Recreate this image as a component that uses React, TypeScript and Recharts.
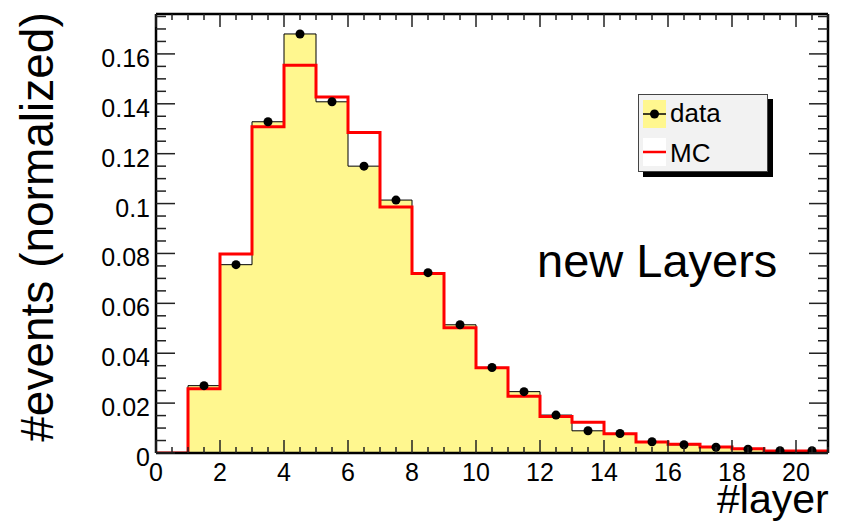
import React from 'react';
import { ComposedChart, Area, Line, Scatter, XAxis, YAxis } from 'recharts';

// bins of #layer, width 1, lower edges
const layerBins = [0, 1, 2, 3, 4, 5, 6, 7, 8, 9, 10, 11, 12, 13, 14, 15, 16, 17, 18, 19, 20];
const dataValues = [
  0, 0.027, 0.0755, 0.1328, 0.168, 0.1408, 0.115, 0.1014, 0.0723, 0.0514, 0.0343,
  0.0246, 0.0152, 0.0089, 0.0078, 0.0045, 0.0033, 0.0023, 0.0015, 0.0009, 0.0009,
];
const mcValues = [
  0, 0.0258, 0.0798, 0.1308, 0.1555, 0.1427, 0.1285, 0.0986, 0.072, 0.0502, 0.0342,
  0.0228, 0.0146, 0.0123, 0.0077, 0.0044, 0.0035, 0.0024, 0.0017, 0.0008, 0.0008,
];
const xMax = 21;
const yMax = 0.176;

const FONT = '"Liberation Sans", Arial, Helvetica, sans-serif';
const YELLOW = '#fff78f';

// step rows: one per lower edge, plus the closing edge
const rows = layerBins.map((b, i) => ({ x: b, data: dataValues[i], mc: mcValues[i] }));
rows.push({ x: xMax, data: dataValues[dataValues.length - 1], mc: mcValues[mcValues.length - 1] });

// markers at bin centres
const points = layerBins
  .map((b, i) => ({ x: b + 0.5, y: dataValues[i] }))
  .filter((p) => p.y > 0);

const xTicks: number[] = [];
for (let i = 0; i <= xMax * 2; i++) xTicks.push(i / 2);
const yTicks: number[] = [];
for (let i = 0; i <= 35; i++) yTicks.push(Math.round(i * 5) / 1000);

const isMajorX = (v: number) => Math.abs(v % 2) < 1e-9;
const isMajorY = (v: number) => Math.abs(Math.round(v * 1000) % 20) === 0;

const BottomTick = ({ x, y, payload }: any) => {
  const v = payload.value;
  const major = isMajorX(v);
  return (
    <g>
      <line x1={x} x2={x} y1={y} y2={y - (major ? 13 : 6)} stroke="#222" strokeWidth={1.5} />
      {major && v <= 20 && (
        <text x={x} y={y + 28} textAnchor="middle" fontSize={25} fontFamily={FONT} fill="#000">
          {v}
        </text>
      )}
    </g>
  );
};

const TopTick = ({ x, y, payload }: any) => {
  const major = isMajorX(payload.value);
  return <line x1={x} x2={x} y1={y} y2={y + (major ? 13 : 6)} stroke="#222" strokeWidth={1.5} />;
};

const LeftTick = ({ x, y, payload }: any) => {
  const v = payload.value;
  const major = isMajorY(v);
  return (
    <g>
      <line x1={x} x2={x + (major ? 19 : 10)} y1={y} y2={y} stroke="#222" strokeWidth={1.5} />
      {major && (
        <text x={x - 6} y={y + 13} textAnchor="end" fontSize={25} fontFamily={FONT} fill="#000">
          {String(Number(v.toFixed(3)))}
        </text>
      )}
    </g>
  );
};

const RightTick = ({ x, y, payload }: any) => {
  const major = isMajorY(payload.value);
  return <line x1={x} x2={x - (major ? 19 : 10)} y1={y} y2={y} stroke="#222" strokeWidth={1.5} />;
};

const Marker = (props: any) => <circle cx={props.cx} cy={props.cy} r={4.5} fill="#000" />;

const DataLegend = () => (
  <div
    style={{
      position: 'absolute',
      left: 638,
      top: 94,
      width: 128,
      height: 76,
      background: '#f2f2f2',
      border: '1px solid #444',
      boxShadow: '5px 5px 0 #000',
    }}
  >
    <svg width={128} height={76} style={{ position: 'absolute', left: 0, top: 0 }}>
      <rect x={4} y={5} width={23} height={28} fill={YELLOW} />
      <line x1={4} x2={27} y1={19} y2={19} stroke="#000" strokeWidth={1.5} />
      <circle cx={15.5} cy={19} r={4.5} fill="#000" />
      <text x={31} y={27} fontSize={26} fontFamily={FONT} fill="#000">data</text>
      <rect x={4} y={43} width={23} height={28} fill="#fff" />
      <line x1={4} x2={27} y1={57} y2={57} stroke="#f00" strokeWidth={2.5} />
      <text x={31} y={67} fontSize={26} fontFamily={FONT} fill="#000">MC</text>
    </svg>
  </div>
);

export default function App() {
  return (
    <div style={{ position: 'absolute', left: 0, top: 0, width: 856, height: 523, background: '#fff' }}>
      <ComposedChart
        width={856}
        height={523}
        data={rows}
        margin={{ top: 13, right: 27, bottom: 69, left: 155 }}
      >
        <XAxis
          dataKey="x"
          type="number"
          domain={[0, xMax]}
          allowDataOverflow
          ticks={xTicks}
          interval={0}
          height={1}
          tickSize={0}
          tickMargin={0}
          tick={BottomTick}
          axisLine={{ stroke: '#000', strokeWidth: 2.5 }}
          tickLine={false}
        />
        <XAxis
          xAxisId="top"
          orientation="top"
          dataKey="x"
          type="number"
          domain={[0, xMax]}
          allowDataOverflow
          ticks={xTicks}
          interval={0}
          height={1}
          tickSize={0}
          tickMargin={0}
          tick={TopTick}
          axisLine={{ stroke: '#000', strokeWidth: 2.5 }}
          tickLine={false}
        />
        <YAxis
          type="number"
          domain={[0, yMax]}
          allowDataOverflow
          ticks={yTicks}
          interval={0}
          width={1}
          tickSize={0}
          tickMargin={0}
          tick={LeftTick}
          axisLine={{ stroke: '#000', strokeWidth: 2.5 }}
          tickLine={false}
        />
        <YAxis
          yAxisId="right"
          orientation="right"
          type="number"
          domain={[0, yMax]}
          allowDataOverflow
          ticks={yTicks}
          interval={0}
          width={1}
          tickSize={0}
          tickMargin={0}
          tick={RightTick}
          axisLine={{ stroke: '#000', strokeWidth: 2.5 }}
          tickLine={false}
        />
        <Area
          type="stepAfter"
          dataKey="data"
          fill={YELLOW}
          fillOpacity={1}
          stroke="#000"
          strokeWidth={1}
          baseValue={0}
          dot={false}
          activeDot={false}
          isAnimationActive={false}
        />
        <Line
          type="stepAfter"
          dataKey="mc"
          stroke="#ff0000"
          strokeWidth={3}
          dot={false}
          activeDot={false}
          isAnimationActive={false}
        />
        <Line
          xAxisId="top"
          yAxisId="right"
          dataKey="mc"
          stroke="none"
          dot={false}
          activeDot={false}
          legendType="none"
          isAnimationActive={false}
        />
        <Scatter data={points} dataKey="y" shape={Marker} isAnimationActive={false} />
      </ComposedChart>
      <DataLegend />
      <svg
        width={856}
        height={523}
        style={{ position: 'absolute', left: 0, top: 0, pointerEvents: 'none' }}
      >
        <text
          transform="translate(53, 227) rotate(-90)"
          textAnchor="middle"
          fontSize={46}
          fontFamily={FONT}
          fill="#000"
        >
          #events (normalized)
        </text>
        <text x={537} y={277} fontSize={47} fontFamily={FONT} fill="#000">
          new Layers
        </text>
        <text x={717} y={513} fontSize={41} fontFamily={FONT} fill="#000">
          #layer
        </text>
      </svg>
    </div>
  );
}
